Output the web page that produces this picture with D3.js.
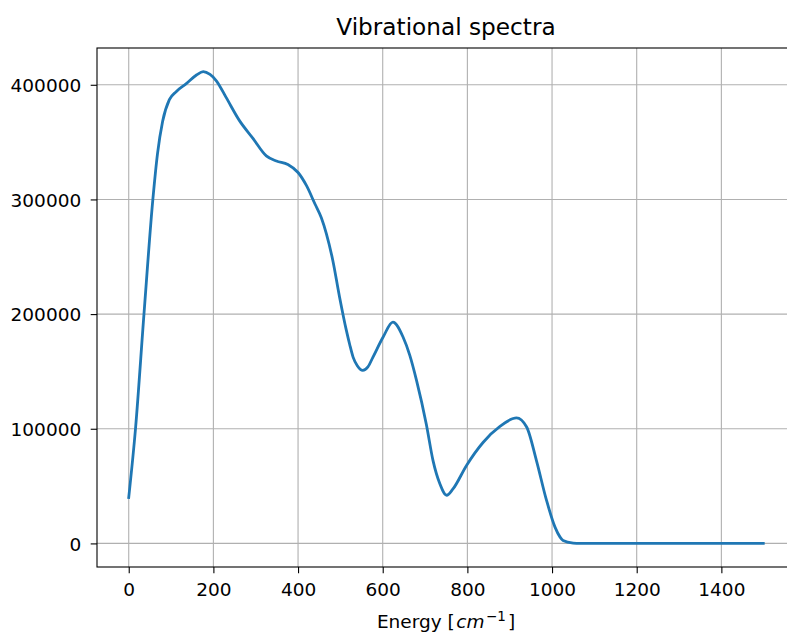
<!DOCTYPE html>
<html>
<head>
<meta charset="utf-8">
<script src="https://cdn.jsdelivr.net/npm/d3@7"></script>
<style>
  html, body { margin: 0; padding: 0; background: #fff; }
  svg { display: block; font-family: "DejaVu Sans", sans-serif; }
</style>
</head>
<body>
<svg id="chart" width="787" height="633"></svg>
<script>
// ---- data ----
const energy = [0, 16, 36, 57, 68, 80, 96, 112, 136, 160, 176, 192, 207, 230, 262, 293, 325, 349, 376, 400, 420, 440, 455, 467, 482, 498, 514, 522, 530, 540, 553, 565, 577, 601, 624, 648, 664, 680, 703, 719, 735, 751, 766, 798, 837, 877, 916, 940, 963, 987, 1007, 1019, 1026, 1050, 1066, 1200, 1350, 1499];
const intensity = [40000, 100000, 200000, 300000, 340000, 368000, 387000, 394000, 401000, 408500, 411500, 409000, 403500, 389000, 368500, 353500, 338000, 333500, 330500, 323500, 312000, 296000, 284000, 270000, 247000, 215000, 186000, 173500, 162500, 155000, 151000, 154000, 162500, 180000, 193000, 180000, 164000, 142000, 104000, 72000, 52000, 42000, 47500, 68000, 88000, 102000, 109500, 101500, 72500, 37500, 14200, 5500, 2600, 300, 0, 0, 0, 0];
const xTicks = [0, 200, 400, 600, 800, 1000, 1200, 1400];
const yTicks = [0, 100000, 200000, 300000, 400000];
const titleText = "Vibrational spectra";

// ---- layout ----
const svg = d3.select("#chart");
const mLeft = 97, mRight = 795, mTop = 48, mBottom = 567;
const tickFont = 18.5;

const xMin = d3.min(energy), xMax = d3.max(energy);
const yMin = d3.min(intensity), yMax = d3.max(intensity);
const xPad = (xMax - xMin) * 0.05, yPad = (yMax - yMin) * 0.05;

const x = d3.scaleLinear().domain([xMin - xPad, xMax + xPad]).range([mLeft, mRight]);
const y = d3.scaleLinear().domain([yMin - yPad, yMax + yPad]).range([mBottom, mTop]);

const data = energy.map((e, i) => ({ e, v: intensity[i] }));

// grid
const grid = svg.append("g");
grid.selectAll("line.gx").data(xTicks).enter().append("line")
  .attr("x1", d => x(d)).attr("x2", d => x(d))
  .attr("y1", mTop).attr("y2", mBottom)
  .attr("stroke", "#b0b0b0").attr("stroke-width", 1.1);
grid.selectAll("line.gy").data(yTicks).enter().append("line")
  .attr("x1", mLeft).attr("x2", mRight)
  .attr("y1", d => y(d)).attr("y2", d => y(d))
  .attr("stroke", "#b0b0b0").attr("stroke-width", 1.1);

// line
const line = d3.line().x(d => x(d.e)).y(d => y(d.v)).curve(d3.curveMonotoneX);
svg.append("path").datum(data)
  .attr("d", line)
  .attr("fill", "none")
  .attr("stroke", "#1f77b4")
  .attr("stroke-width", 2.8)
  .attr("stroke-linejoin", "round")
  .attr("stroke-linecap", "square");

// axes
const xAxis = d3.axisBottom(x).tickValues(xTicks).tickFormat(d3.format("d")).tickSize(6.3).tickPadding(9.7);
const yAxis = d3.axisLeft(y).tickValues(yTicks).tickFormat(d3.format("d")).tickSize(6.3).tickPadding(9.5);

const gx = svg.append("g").attr("transform", `translate(0,${mBottom})`).call(xAxis);
const gy = svg.append("g").attr("transform", `translate(${mLeft},0)`).call(yAxis);
[gx, gy].forEach(g => {
  g.select(".domain").remove();
  g.selectAll(".tick line").attr("stroke", "#000").attr("stroke-width", 1.1);
  g.selectAll(".tick text").attr("fill", "#000")
    .style("font-family", "'DejaVu Sans', sans-serif").style("font-size", tickFont + "px");
});
gy.selectAll(".tick text").attr("dy", "0.36em");

// spines
svg.append("rect")
  .attr("x", mLeft).attr("y", mTop)
  .attr("width", mRight - mLeft).attr("height", mBottom - mTop)
  .attr("fill", "none").attr("stroke", "#000").attr("stroke-width", 1.1);

// title
svg.append("text")
  .attr("x", (mLeft + mRight) / 2).attr("y", 35)
  .attr("text-anchor", "middle")
  .style("font-size", "23.2px")
  .attr("fill", "#000")
  .text(titleText);

// x label
const xl = svg.append("text")
  .attr("x", (mLeft + mRight) / 2).attr("y", 628)
  .attr("text-anchor", "middle")
  .style("font-size", "18.5px")
  .attr("fill", "#000");
xl.append("tspan").text("Energy [");
xl.append("tspan").attr("dx", 1.5).style("font-style", "italic").text("cm");
xl.append("tspan").attr("dx", 1.5).attr("dy", -7.5).style("font-size", "13.5px").text("\u22121");
xl.append("tspan").attr("dx", 2).attr("dy", 7.5).text("]");
</script>
</body>
</html>
